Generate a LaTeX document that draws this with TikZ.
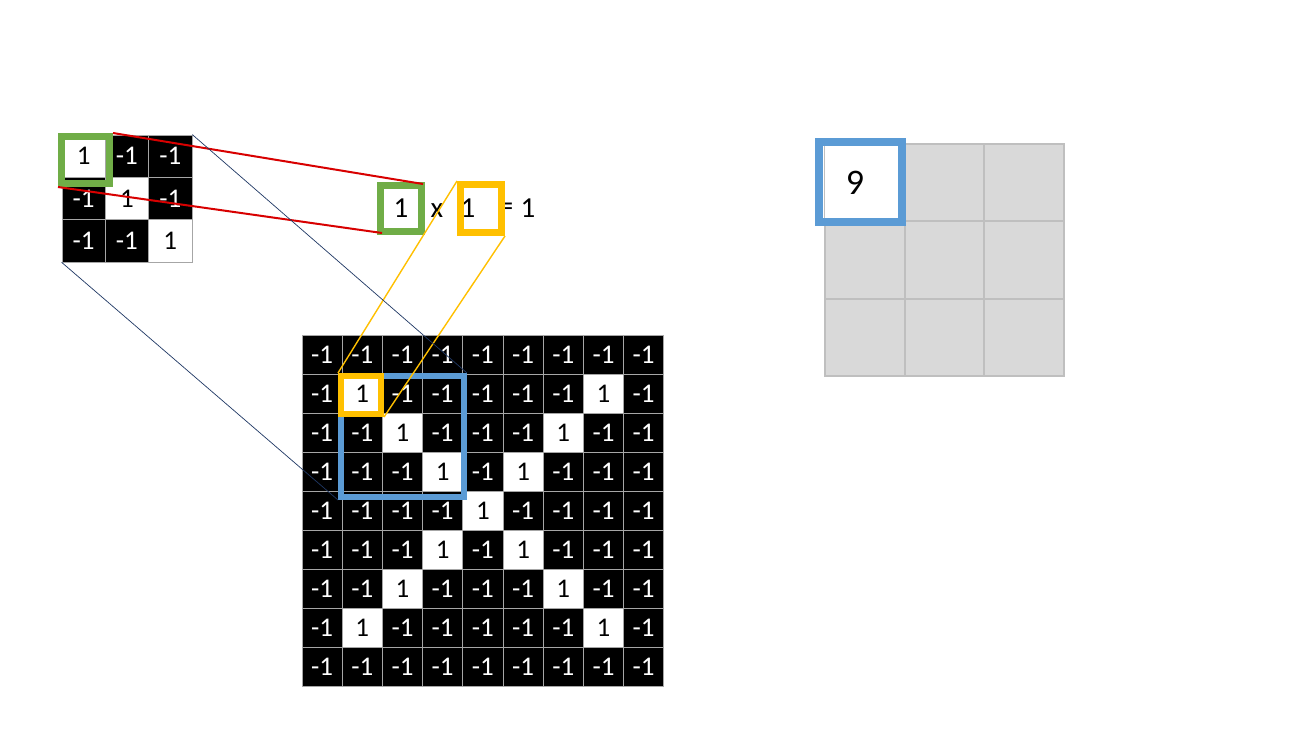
\documentclass[tikz,border=0pt]{standalone}
\usepackage{fontspec}
\setmainfont{Carlito}
\definecolor{cgreen}{HTML}{70AD47}
\definecolor{corange}{HTML}{FFC000}
\definecolor{cblue}{HTML}{5B9BD5}
\definecolor{cred}{HTML}{D80000}
\definecolor{cnavy}{HTML}{1F3864}
\definecolor{cgrid}{HTML}{A6A6A6}
\definecolor{cout}{HTML}{D9D9D9}
\definecolor{coutl}{HTML}{BFBFBF}
\tikzset{
  cellfont/.style={font=\fontsize{27}{27}\selectfont},
  bcell/.style={cellfont, fill=black, text=white, draw=cgrid, line width=0.8pt, inner sep=0pt, minimum width=#1, minimum height=39pt},
  wcell/.style={cellfont, fill=white, text=black, draw=cgrid, line width=0.8pt, inner sep=0pt, minimum width=#1, minimum height=39pt},
  ocell/.style={fill=cout, draw=coutl, line width=2pt, inner sep=0pt, minimum width=79.7pt, minimum height=77.3pt},
  hbox/.style={draw=#1, line width=7pt, inner sep=0pt, fill=none},
  link/.style={line width=#1},
  eqtext/.style={font=\fontsize{29}{29}\selectfont, inner sep=0pt},
}
\begin{document}
\begin{tikzpicture}[x=1pt, y=-1pt]
\useasboundingbox (0,0) rectangle (1306,734);
\fill[white] (0,0) rectangle (1306,734);
% small filter 3x3
\foreach \row [count=\r] in {{1,0,0},{0,1,0},{0,0,1}} {
  \foreach \v [count=\c] in \row {
    \ifnum\v=1
      \node[wcell=43.3pt, minimum height=42.3pt, font=\fontsize{27}{27}\selectfont] (f-\r-\c) at ({62+(\c-0.5)*43.3},{135+(\r-0.5)*42.3}) {1};
    \else
      \node[bcell=43.3pt, minimum height=42.3pt, font=\fontsize{27}{27}\selectfont] (f-\r-\c) at ({62+(\c-0.5)*43.3},{135+(\r-0.5)*42.3}) {-1};
    \fi
  }
}
% big image 9x9
\foreach \row [count=\r] in {
  {0,0,0,0,0,0,0,0,0},
  {0,1,0,0,0,0,0,1,0},
  {0,0,1,0,0,0,1,0,0},
  {0,0,0,1,0,1,0,0,0},
  {0,0,0,0,1,0,0,0,0},
  {0,0,0,1,0,1,0,0,0},
  {0,0,1,0,0,0,1,0,0},
  {0,1,0,0,0,0,0,1,0},
  {0,0,0,0,0,0,0,0,0}} {
  \foreach \v [count=\c] in \row {
    \ifnum\v=1
      \node[wcell=40.2pt] (g-\r-\c) at ({302+(\c-0.5)*40.2},{335+(\r-0.5)*39}) {1};
    \else
      \node[bcell=40.2pt] (g-\r-\c) at ({302+(\c-0.5)*40.2},{335+(\r-0.5)*39}) {-1};
    \fi
  }
}
% output 3x3
\foreach \r in {1,2,3} {
  \foreach \c in {1,2,3} {
    \node[ocell] (o-\r-\c) at ({825+(\c-0.5)*79.7},{144+(\r-0.5)*77.3}) {};
  }
}
\node[ocell, fill=white, draw=none] (o-w) at (o-1-1) {};
\node[font=\fontsize{36}{36}\selectfont, inner sep=0pt] (nine) at (855,183) {9};
% equation text
\node[eqtext] (e1) at (401,208) {1};
\node[eqtext] (ex) at (437,211) {x};
\node[eqtext] (e2) at (468,208) {1};
\node[eqtext] (eeq) at (506,209) {=};
\node[eqtext] (e3) at (528,208) {1};
% highlight boxes
\node[hbox=cgreen, minimum width=48pt, minimum height=47pt] (fg) at (85.5,160) {};
\node[hbox=cgreen, minimum width=41pt, minimum height=46pt] (eg) at (401,208.5) {};
\node[hbox=corange, minimum width=41pt, minimum height=48pt] (eo) at (481,208.5) {};
\node[hbox=cblue, line width=6pt, minimum width=123pt, minimum height=121pt] (gb) at (402.5,436.5) {};
\node[hbox=corange, line width=6pt, minimum width=40pt, minimum height=38pt] (go) at (361,395) {};
\node[hbox=cblue, line width=8pt, minimum width=83pt, minimum height=80pt] (ob) at (860.5,182) {};
% connectors
\draw[link=2pt, cred] (fg.north east) -- ([shift={(-2pt,-2pt)}]eg.north east);
\draw[link=2pt, cred] (fg.south west) -- ([shift={(5pt,2pt)}]eg.south west);
\draw[link=1.4pt, corange] (eo.north west) -- (go.north west);
\draw[link=1.4pt, corange] (eo.south east) -- (go.south east);
\draw[link=0.7pt, cnavy] (f-1-3.north east) -- (gb.north east);
\draw[link=0.7pt, cnavy] (f-3-1.south west) -- (gb.south west);
\end{tikzpicture}
\end{document}
